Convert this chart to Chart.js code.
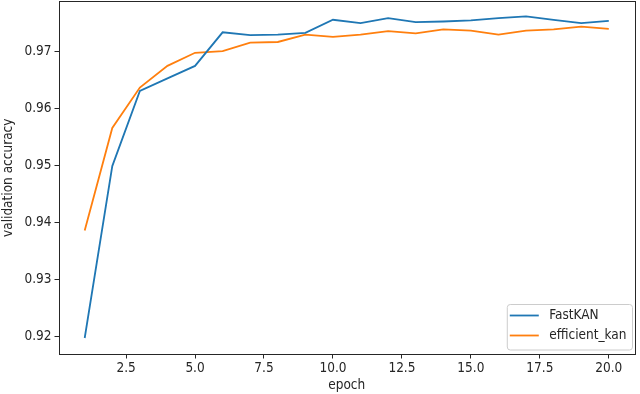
<!DOCTYPE html>
<html>
<head>
<meta charset="utf-8">
<script src="https://cdn.jsdelivr.net/npm/chart.js@4.4.1/dist/chart.umd.min.js"></script>
<style>
  html, body { margin: 0; padding: 0; background: #fff; }
  #wrap { width: 640px; height: 394px; position: relative; }
</style>
</head>
<body>
<div id="wrap"><canvas id="chart"></canvas></div>
<script>
// data
const epochs = [1, 2, 3, 4, 5, 6, 7, 8, 9, 10, 11, 12, 13, 14, 15, 16, 17, 18, 19, 20];
const fastKan = [0.9197, 0.9499, 0.9631, 0.9653, 0.9675, 0.9734, 0.9729, 0.9730, 0.9733, 0.9756,
                 0.9750, 0.9759, 0.9752, 0.9753, 0.9755, 0.9759, 0.9762, 0.9756, 0.9750, 0.9754];
const efficientKan = [0.9386, 0.9566, 0.9637, 0.9675, 0.9698, 0.9701, 0.9716, 0.9717, 0.9730, 0.9726,
                      0.9730, 0.9736, 0.9732, 0.9739, 0.9737, 0.9730, 0.9737, 0.9739, 0.9744, 0.9740];
const xTicks = [2.5, 5.0, 7.5, 10.0, 12.5, 15.0, 17.5, 20.0];
const yTicks = [0.92, 0.93, 0.94, 0.95, 0.96, 0.97];

const FONT = '"DejaVu Sans Condensed", "DejaVu Sans", sans-serif';
const tickFont = { family: FONT, size: 13.5 };
const inkColor = '#262626';

// box around the plot area (matplotlib style)
const frame = {
    id: 'frame',
    afterDraw(chart) {
        const { ctx, chartArea: a } = chart;
        ctx.save();
        ctx.strokeStyle = inkColor;
        ctx.lineWidth = 1;
        ctx.strokeRect(Math.round(a.left) + 0.5, Math.round(a.top) + 0.5,
                       Math.round(a.right - a.left) - 1, Math.round(a.bottom - a.top) - 1);
        ctx.restore();
    }
};

// legend inside lower right corner
const cornerLegend = {
    id: 'cornerLegend',
    afterDraw(chart) {
        const { ctx, chartArea: a } = chart;
        const sets = chart.data.datasets;
        ctx.save();
        ctx.font = tickFont.size + 'px ' + FONT;
        const textW = Math.max(...sets.map(d => ctx.measureText(d.label).width));
        const w = 2.5 + 29 + 10.5 + textW + 6;
        const h = 45.5;
        const x = a.right - 2.5 - w;
        const y = a.bottom - 4.5 - h;
        const r = 3;
        ctx.beginPath();
        ctx.moveTo(x + r, y);
        ctx.arcTo(x + w, y, x + w, y + h, r);
        ctx.arcTo(x + w, y + h, x, y + h, r);
        ctx.arcTo(x, y + h, x, y, r);
        ctx.arcTo(x, y, x + w, y, r);
        ctx.closePath();
        ctx.fillStyle = 'rgba(255,255,255,0.8)';
        ctx.fill();
        ctx.strokeStyle = '#cccccc';
        ctx.lineWidth = 1;
        ctx.stroke();
        sets.forEach((d, i) => {
            const ly = y + 11 + i * 20;
            ctx.strokeStyle = d.borderColor;
            ctx.lineWidth = 1.8;
            ctx.beginPath();
            ctx.moveTo(x + 2.5, ly);
            ctx.lineTo(x + 31.5, ly);
            ctx.stroke();
            ctx.fillStyle = inkColor;
            ctx.textBaseline = 'middle';
            ctx.fillText(d.label, x + 42, ly);
        });
        ctx.restore();
    }
};

function toPoints(values) {
    return values.map((v, i) => ({ x: epochs[i], y: v }));
}

new Chart(document.getElementById('chart'), {
    type: 'line',
    data: {
        datasets: [{
            label: 'FastKAN',
            data: toPoints(fastKan),
            borderColor: '#1f77b4',
            borderWidth: 1.8,
            pointRadius: 0,
            tension: 0
        }, {
            label: 'efficient_kan',
            data: toPoints(efficientKan),
            borderColor: '#ff7f0e',
            borderWidth: 1.8,
            pointRadius: 0,
            tension: 0
        }]
    },
    options: {
        responsive: true,
        maintainAspectRatio: false,
        animation: false,
        layout: { padding: { top: 1, right: 5, left: 0, bottom: 0 } },
        plugins: {
            legend: { display: false },
            tooltip: { enabled: false }
        },
        scales: {
            x: {
                type: 'linear',
                min: 0.05,
                max: 20.95,
                afterBuildTicks: s => { s.ticks = xTicks.map(v => ({ value: v })); },
                afterFit: s => { s.height = 39.5; s.paddingLeft = 0; s.paddingRight = 0; },
                ticks: {
                    font: tickFont,
                    color: inkColor,
                    padding: 2,
                    maxRotation: 0,
                    callback: v => v.toFixed(1)
                },
                grid: { drawOnChartArea: false, drawTicks: true, tickLength: 4, tickColor: inkColor },
                border: { display: false },
                title: {
                    display: true,
                    text: 'epoch',
                    font: tickFont,
                    color: inkColor,
                    padding: { top: 0, bottom: 0 }
                }
            },
            y: {
                min: 0.9168,
                max: 0.9789,
                afterBuildTicks: s => { s.ticks = yTicks.map(v => ({ value: v })); },
                afterFit: s => { s.width = 58.5; s.paddingTop = 0; s.paddingBottom = 0; },
                ticks: {
                    font: tickFont,
                    color: inkColor,
                    padding: 3,
                    callback: v => v.toFixed(2)
                },
                grid: { drawOnChartArea: false, drawTicks: true, tickLength: 4, tickColor: inkColor },
                border: { display: false },
                title: {
                    display: true,
                    text: 'validation accuracy',
                    font: tickFont,
                    color: inkColor,
                    padding: { top: 0, bottom: 0 }
                }
            }
        }
    },
    plugins: [frame, cornerLegend]
});
</script>
</body>
</html>
